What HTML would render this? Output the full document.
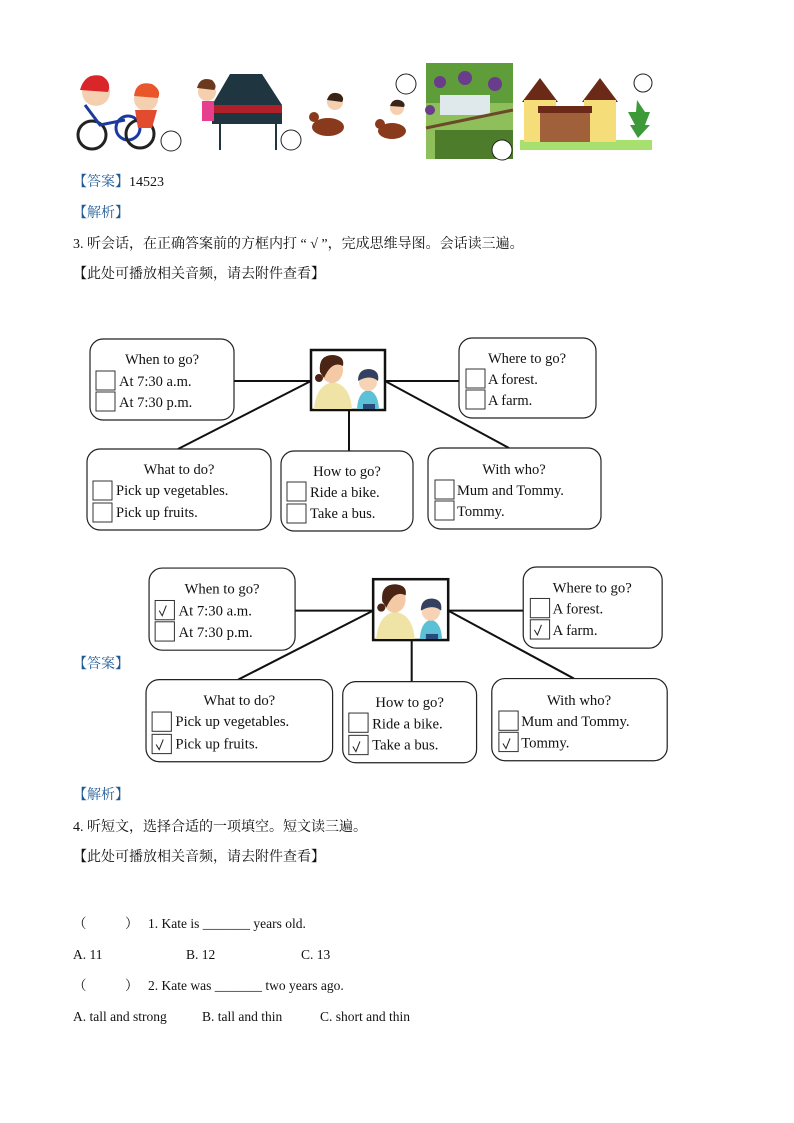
<!DOCTYPE html>
<html><head><meta charset="utf-8"><style>
html,body{margin:0;padding:0;background:#fff}
svg{display:block}
.cn{font-family:"Liberation Serif","Noto Serif CJK SC","Noto Sans CJK SC",serif;font-size:14px;fill:#111}
.s{font-family:"Liberation Serif",serif;font-size:14.5px;fill:#111}
.t{font-family:"Liberation Serif",serif;font-size:14.5px;fill:#111;text-anchor:middle}
.b{fill:#fff;stroke:#222;stroke-width:1.2}
.ck{fill:none;stroke:#333;stroke-width:1}
.ln{stroke:#111;stroke-width:2}
</style></head><body>
<svg width="794" height="1123" viewBox="0 0 794 1123" xmlns="http://www.w3.org/2000/svg">
<defs>
<g id="d">
  <line class="ln" x1="234" y1="381" x2="311" y2="381"/>
  <line class="ln" x1="385" y1="381" x2="459" y2="381"/>
  <line class="ln" x1="311" y1="381" x2="178" y2="449"/>
  <line class="ln" x1="349" y1="410" x2="349" y2="451"/>
  <line class="ln" x1="385" y1="381" x2="509" y2="448"/>
  <rect class="b" x="90" y="339" width="144" height="81" rx="13"/>
  <text class="t" x="162" y="364">When to go?</text>
  <rect class="ck" x="96" y="371" width="19" height="19"/><text class="s" x="119" y="386">At 7:30 a.m.</text>
  <rect class="ck" x="96" y="392" width="19" height="19"/><text class="s" x="119" y="407">At 7:30 p.m.</text>
  <rect class="b" x="459" y="338" width="137" height="80" rx="13"/>
  <text class="t" x="527" y="363">Where to go?</text>
  <rect class="ck" x="466" y="369" width="19" height="19"/><text class="s" x="488" y="384">A forest.</text>
  <rect class="ck" x="466" y="390" width="19" height="19"/><text class="s" x="488" y="405">A farm.</text>
  <rect class="b" x="87" y="449" width="184" height="81" rx="13"/>
  <text class="t" x="179" y="474">What to do?</text>
  <rect class="ck" x="93" y="481" width="19" height="19"/><text class="s" x="116" y="495">Pick up vegetables.</text>
  <rect class="ck" x="93" y="503" width="19" height="19"/><text class="s" x="116" y="517">Pick up fruits.</text>
  <rect class="b" x="281" y="451" width="132" height="80" rx="13"/>
  <text class="t" x="347" y="476">How to go?</text>
  <rect class="ck" x="287" y="482" width="19" height="19"/><text class="s" x="310" y="497">Ride a bike.</text>
  <rect class="ck" x="287" y="504" width="19" height="19"/><text class="s" x="310" y="518">Take a bus.</text>
  <rect class="b" x="428" y="448" width="173" height="81" rx="13"/>
  <text class="t" x="514" y="474">With who?</text>
  <rect class="ck" x="435" y="480" width="19" height="19"/><text class="s" x="457" y="495">Mum  and Tommy.</text>
  <rect class="ck" x="435" y="501" width="19" height="19"/><text class="s" x="457" y="516">Tommy.</text>
  <rect x="311" y="350" width="74" height="60" fill="#fff" stroke="#111" stroke-width="2.5"/>
  <path d="M314 409 Q316 385 333 382 Q350 385 352 409 Z" fill="#efe3a6"/>
  <ellipse cx="332" cy="370" rx="11" ry="13" fill="#f4c9a6"/>
  <path d="M320 372 Q318 355 333 355 Q345 356 343 366 Q332 360 324 378 Z" fill="#4a2415"/>
  <circle cx="319" cy="378" r="4" fill="#4a2415"/>
  <path d="M357 409 Q358 392 368 390 Q378 392 379 409 Z" fill="#5cc0d6"/>
  <circle cx="368" cy="382" r="9" fill="#f6d3b4"/>
  <path d="M358 381 Q358 369 369 369 Q380 370 378 381 Q370 374 358 381 Z" fill="#33405f"/>
  <rect x="363" y="404" width="12" height="5" fill="#2a4a7a"/>
</g>
<g id="k"><path d="M0 0 l3 5 l4 -10" fill="none" stroke="#222" stroke-width="1"/></g>
</defs>

<g>
  <circle cx="92" cy="135" r="14" fill="none" stroke="#222" stroke-width="3"/>
  <circle cx="128" cy="128" r="12" fill="none" stroke="#1b3aa0" stroke-width="3"/>
  <circle cx="140" cy="134" r="14" fill="none" stroke="#222" stroke-width="3"/>
  <path d="M85 105 l15 20 l25 -5" stroke="#1b3aa0" stroke-width="3" fill="none"/>
  <circle cx="96" cy="92" r="14" fill="#f5d0b0"/><path d="M80 90 Q85 72 102 76 Q112 82 108 92 Z" fill="#d8262b"/>
  <circle cx="146" cy="99" r="12" fill="#f5d0b0"/><path d="M134 96 Q136 80 152 84 Q162 90 158 98 Z" fill="#e8562a"/>
  <path d="M135 110 l22 0 l-5 18 l-14 0 Z" fill="#e24b2d"/>
  <circle cx="171" cy="141" r="10" fill="#fff" stroke="#222"/>
  <path d="M230 74 L262 74 L282 105 L282 124 L212 124 L212 105 Z" fill="#1f3540"/>
  <rect x="212" y="105" width="70" height="8" fill="#b0202a"/>
  <line x1="220" y1="124" x2="220" y2="150" stroke="#1f3540" stroke-width="2"/><line x1="276" y1="124" x2="276" y2="150" stroke="#1f3540" stroke-width="2"/>
  <circle cx="207" cy="92" r="9" fill="#f5d0b0"/><path d="M197 88 Q200 76 212 80 Q218 86 214 90 Z" fill="#6b3a1e"/>
  <rect x="202" y="101" width="12" height="20" fill="#e53f8e"/>
  <circle cx="291" cy="140" r="10" fill="#fff" stroke="#222"/>
  <ellipse cx="328" cy="127" rx="16" ry="9" fill="#8a3a1c"/><circle cx="314" cy="117" r="5" fill="#8a3a1c"/>
  <circle cx="335" cy="102" r="8" fill="#f5d0b0"/><path d="M327 100 Q330 90 340 94 Q345 98 342 102 Z" fill="#3a2418"/>
  <ellipse cx="392" cy="131" rx="14" ry="8" fill="#8a3a1c"/><circle cx="380" cy="124" r="5" fill="#8a3a1c"/>
  <circle cx="397" cy="108" r="7" fill="#f5d0b0"/><path d="M390 106 Q393 97 402 101 Q406 104 404 107 Z" fill="#3a2418"/>
  <circle cx="406" cy="84" r="10" fill="#fff" stroke="#222"/>
  <rect x="426" y="63" width="87" height="96" fill="#8fbf5a"/>
  <rect x="426" y="63" width="87" height="40" fill="#5f9c3a"/>
  <rect x="440" y="95" width="50" height="20" fill="#dfe8ea"/>
  <circle cx="440" cy="82" r="6" fill="#6a3c8c"/><circle cx="465" cy="78" r="7" fill="#6a3c8c"/><circle cx="495" cy="84" r="7" fill="#6a3c8c"/><circle cx="430" cy="110" r="5" fill="#6a3c8c"/>
  <rect x="435" y="130" width="78" height="29" fill="#4d7d2a"/>
  <line x1="426" y1="128" x2="513" y2="110" stroke="#6b4a2a" stroke-width="3"/>
  <circle cx="502" cy="150" r="10" fill="#fff" stroke="#222"/>
  <rect x="520" y="140" width="132" height="10" fill="#a8e070"/>
  <path d="M522 102 L540 78 L558 102 Z" fill="#6b2a18"/><rect x="524" y="100" width="32" height="42" fill="#f5de7a"/>
  <path d="M582 102 L600 78 L618 102 Z" fill="#6b2a18"/><rect x="584" y="100" width="32" height="42" fill="#f5de7a"/>
  <rect x="540" y="112" width="50" height="30" fill="#a0603a"/><rect x="538" y="106" width="54" height="7" fill="#6b2a18"/>
  <path d="M638 138 L630 125 L635 125 L628 112 L636 112 L637 100 L645 112 L650 112 L645 125 L650 125 Z" fill="#3c9a38"/>
  <circle cx="643" cy="83" r="9" fill="#fff" stroke="#222"/>
</g>

<text class="cn" x="73" y="186"><tspan style="fill:#1e5b96">【答案】</tspan>14523</text>
<text class="cn" x="73" y="217" style="fill:#1e5b96">【解析】</text>
<text class="cn" x="73" y="248">3. 听会话，在正确答案前的方框内打 “ √ ”，完成思维导图。会话读三遍。</text>
<text class="cn" x="73" y="278">【此处可播放相关音频，请去附件查看】</text>

<use href="#d"/>
<g transform="translate(57.8,224.3) scale(1.014)">
  <use href="#d"/>
  <use href="#k" x="100" y="381"/>
  <use href="#k" x="470" y="400"/>
  <use href="#k" x="97" y="513"/>
  <use href="#k" x="291" y="515"/>
  <use href="#k" x="439" y="512"/>
</g>
<text class="cn" x="73" y="668" style="fill:#1e5b96">【答案】</text>

<text class="cn" x="73" y="799" style="fill:#1e5b96">【解析】</text>
<text class="cn" x="73" y="831">4. 听短文，选择合适的一项填空。短文读三遍。</text>
<text class="cn" x="73" y="861">【此处可播放相关音频，请去附件查看】</text>
<text class="cn" x="73" y="928" style="font-size:13.5px">（</text>
<text class="cn" x="125" y="928" style="font-size:13.5px">）</text>
<text class="cn" x="148" y="928" style="font-size:13.5px">1. Kate is _______ years old.</text>
<text class="cn" x="73" y="959" style="font-size:13.5px">A. 11</text>
<text class="cn" x="186" y="959" style="font-size:13.5px">B. 12</text>
<text class="cn" x="301" y="959" style="font-size:13.5px">C. 13</text>
<text class="cn" x="73" y="990" style="font-size:13.5px">（</text>
<text class="cn" x="125" y="990" style="font-size:13.5px">）</text>
<text class="cn" x="148" y="990" style="font-size:13.5px">2. Kate was _______ two years ago.</text>
<text class="cn" x="73" y="1021" style="font-size:13.5px">A. tall and strong</text>
<text class="cn" x="202" y="1021" style="font-size:13.5px">B. tall and thin</text>
<text class="cn" x="320" y="1021" style="font-size:13.5px">C. short and thin</text>
</svg>
</body></html>
